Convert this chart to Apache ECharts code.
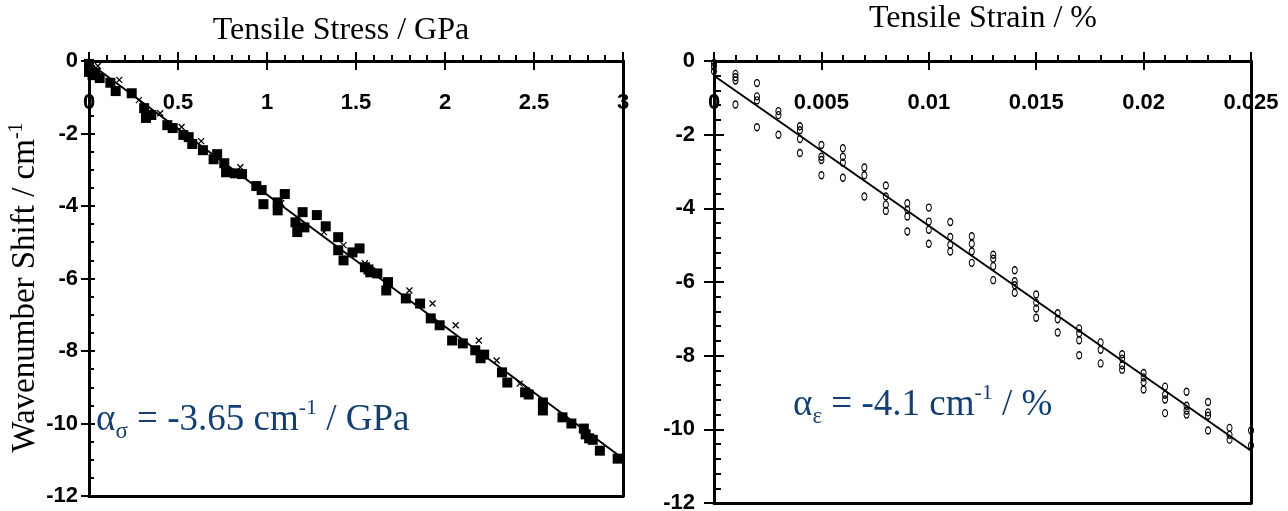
<!DOCTYPE html>
<html>
<head>
<meta charset="utf-8">
<title>Wavenumber shift vs tensile stress / strain</title>
<script src="https://cdn.jsdelivr.net/npm/echarts@6/dist/echarts.min.js"></script>
<style>
	html, body {
		margin: 0;
		padding: 0;
		background: #fff;
	}

	#myChart {
		width: 1288px;
		height: 511px;
	}
</style>
</head>
<body>
<div id="myChart"></div>
<script>
	// ---- left panel: shift vs tensile stress (GPa) ----
	var stressSqX = [0.0, 0.0, 0.006, 0.02, 0.035, 0.06, 0.12, 0.15, 0.24, 0.31, 0.32, 0.35, 0.44, 0.47, 0.53, 0.56, 0.58,
		0.64, 0.70, 0.72, 0.76, 0.77, 0.82, 0.86, 0.94, 0.97, 0.98, 1.06, 1.06, 1.10, 1.16, 1.17, 1.20, 1.21, 1.28,
		1.33, 1.40, 1.40, 1.43, 1.48, 1.52, 1.55, 1.57, 1.58, 1.62, 1.68, 1.67, 1.78, 1.86, 1.92, 1.97, 2.04, 2.10,
		2.17, 2.20, 2.22, 2.32, 2.35, 2.45, 2.47, 2.55, 2.55, 2.66, 2.71, 2.78, 2.79, 2.81, 2.83, 2.87, 2.97
	];
	var stressSqY = [-0.08, -0.3, -0.25, -0.39, -0.33, -0.47, -0.6, -0.83, -0.89, -1.3, -1.57, -1.49, -1.77, -1.85, -2.04,
		-2.1, -2.29, -2.46, -2.71, -2.57, -2.82, -3.07, -3.1, -3.12, -3.45, -3.56, -3.95, -3.9, -4.12, -3.67, -4.45,
		-4.72, -4.17, -4.59, -4.25, -4.56, -4.86, -5.22, -5.5, -5.28, -5.17, -5.69, -5.75, -5.83, -5.86, -6.1, -6.33,
		-6.55, -6.69, -7.1, -7.29, -7.71, -7.79, -7.98, -8.2, -8.1, -8.59, -8.87, -9.14, -9.2, -9.42, -9.64, -9.83,
		-10.0, -10.14, -10.3, -10.41, -10.45, -10.75, -10.97
	];
	var stressCrossX = [0.05, 0.17, 0.28, 0.40, 0.52, 0.63, 0.85, 1.08, 1.32, 1.43, 1.55, 1.80, 1.93, 2.06, 2.19, 2.29, 2.42];
	var stressCrossY = [-0.14, -0.52, -1.08, -1.44, -1.82, -2.21, -2.93, -3.92, -4.72, -5.08, -5.58, -6.33, -6.69, -7.29,
		-7.71, -8.26, -8.9
	];
	var stressFitX = [0, 2.99];
	var stressFitY = [-0.05, -10.93];

	// ---- right panel: shift vs tensile strain (%) ----
	var strainCols = [0, 0.001, 0.002, 0.003, 0.004, 0.005, 0.006, 0.007, 0.008, 0.009, 0.010, 0.011, 0.012,
		0.013, 0.014, 0.015, 0.016, 0.017, 0.018, 0.019, 0.020, 0.021, 0.022, 0.023, 0.024, 0.025
	];
	var strainShifts = [
		[-0.05, -0.15, -0.28],
		[-0.35, -0.44, -0.53, -1.18],
		[-0.6, -0.96, -1.07, -1.8],
		[-1.36, -1.47, -2.0],
		[-1.77, -1.88, -2.12, -2.5],
		[-2.28, -2.6, -2.69, -3.1],
		[-2.37, -2.6, -2.76, -3.17],
		[-2.89, -3.1, -3.68],
		[-3.38, -3.68, -3.9, -4.07],
		[-3.86, -4.04, -4.22, -4.63],
		[-3.98, -4.36, -4.58, -4.96],
		[-4.37, -4.78, -4.99, -5.17],
		[-4.76, -4.96, -5.17, -5.48],
		[-5.26, -5.37, -5.57, -5.95],
		[-5.68, -5.98, -6.09, -6.29],
		[-6.34, -6.56, -6.72, -6.97],
		[-6.85, -7.01, -7.37],
		[-7.26, -7.39, -7.58, -7.99],
		[-7.64, -7.84, -8.21],
		[-7.96, -8.08, -8.26, -8.38],
		[-8.47, -8.59, -8.72, -8.92],
		[-8.84, -9.06, -9.19, -9.56],
		[-8.98, -9.36, -9.49, -9.6],
		[-9.26, -9.54, -9.63, -10.03],
		[-9.96, -10.15, -10.28],
		[-10.03, -10.44]
	];
	var strainFitX = [0, 0.025];
	var strainFitY = [-0.4, -10.58];

	var shiftMin = -12;
	var shiftMax = 0;
	var shiftStep = 2;

	var serif = 'Liberation Serif, Times New Roman, serif';
	var sans = 'Liberation Sans, Arial, sans-serif';
	var blue = '#143f72';

	function pairs(xs, ys) {
		var out = [];
		for (var i = 0; i < xs.length; i++) {
			out.push([xs[i], ys[i]]);
		}
		return out;
	}

	var strainData = [];
	for (var c = 0; c < strainCols.length; c++) {
		for (var k = 0; k < strainShifts[c].length; k++) {
			strainData.push([strainCols[c], strainShifts[c][k]]);
		}
	}

	var tickLabel = {
		fontFamily: sans,
		fontWeight: 'bold',
		fontSize: 22,
		color: '#000'
	};
	var blackLine = {
		color: '#000',
		width: 2
	};

	// top axis carrying the labels, ticks pointing outward
	function xTop(grid, max, interval) {
		return {
			type: 'value',
			gridIndex: grid,
			position: 'top',
			min: 0,
			max: max,
			interval: interval,
			axisLine: {
				onZero: false,
				lineStyle: {
					color: '#000',
					width: 3
				}
			},
			axisTick: {
				inside: false,
				length: 9,
				lineStyle: blackLine
			},
			minorTick: {
				show: true,
				splitNumber: 5,
				length: 6,
				lineStyle: blackLine
			},
			axisLabel: Object.assign({
				inside: true,
				margin: 31
			}, tickLabel),
			splitLine: {
				show: false
			}
		};
	}
	// same scale, only the inner half of the major ticks
	function xTopInner(grid, max, interval) {
		return {
			type: 'value',
			gridIndex: grid,
			position: 'top',
			min: 0,
			max: max,
			interval: interval,
			axisLine: {
				show: false,
				onZero: false
			},
			axisTick: {
				inside: true,
				length: 9,
				lineStyle: blackLine
			},
			axisLabel: {
				show: false
			},
			splitLine: {
				show: false
			}
		};
	}
	// plain frame edge
	function frameAxis(grid, dim, pos, max) {
		return {
			type: 'value',
			gridIndex: grid,
			position: pos,
			min: dim === 'x' ? 0 : shiftMin,
			max: max,
			axisLine: {
				show: true,
				onZero: false,
				lineStyle: {
					color: '#000',
					width: 3
				}
			},
			axisTick: {
				show: false
			},
			axisLabel: {
				show: false
			},
			splitLine: {
				show: false
			}
		};
	}
	function yLeft(grid, margin, outLen) {
		return {
			type: 'value',
			gridIndex: grid,
			position: 'left',
			min: shiftMin,
			max: shiftMax,
			interval: shiftStep,
			axisLine: {
				onZero: false,
				lineStyle: {
					color: '#000',
					width: 3
				}
			},
			axisTick: {
				inside: false,
				length: outLen,
				lineStyle: blackLine
			},
			axisLabel: Object.assign({
				margin: margin
			}, tickLabel),
			splitLine: {
				show: false
			}
		};
	}
	function yLeftInner(grid, len, minorLen, minorSplit) {
		return {
			type: 'value',
			gridIndex: grid,
			position: 'left',
			min: shiftMin,
			max: shiftMax,
			interval: shiftStep,
			axisLine: {
				show: false,
				onZero: false
			},
			axisTick: {
				inside: true,
				length: len,
				lineStyle: blackLine
			},
			minorTick: {
				show: true,
				splitNumber: minorSplit,
				length: minorLen,
				lineStyle: blackLine
			},
			axisLabel: {
				show: false
			},
			splitLine: {
				show: false
			}
		};
	}

	var yMainLeft = yLeft(0, 11, 8);
	yMainLeft.name = '{t|Wavenumber Shift / cm}{s|-1}';
	yMainLeft.nameLocation = 'middle';
	yMainLeft.nameRotate = 90;
	yMainLeft.nameGap = 40;
	yMainLeft.nameTextStyle = {
		padding: [0, 18, 0, 0],
		rich: {
			t: {
				fontFamily: serif,
				fontSize: 33,
				color: '#000',
				lineHeight: 38
			},
			s: {
				fontFamily: serif,
				fontSize: 20,
				color: '#000',
				verticalAlign: 'top',
				lineHeight: 20
			}
		}
	};

	function annotation(x, y, sub, rest) {
		return {
			type: 'text',
			x: x,
			y: y,
			style: {
				text: '{a|α}{b|' + sub + '}{a| = ' + rest[0] + ' cm}{c|-1}{a| / ' + rest[1] + '}',
				textVerticalAlign: 'top',
				rich: {
					a: {
						fontFamily: serif,
						fontSize: 37,
						lineHeight: 46,
						fill: blue
					},
					b: {
						fontFamily: serif,
						fontSize: 23,
						lineHeight: 24,
						verticalAlign: 'bottom',
						fill: blue
					},
					c: {
						fontFamily: serif,
						fontSize: 22,
						lineHeight: 26,
						verticalAlign: 'top',
						fill: blue
					}
				}
			}
		};
	}

	var myChart = echarts.init(document.getElementById('myChart'));
	myChart.setOption({
		animation: false,
		backgroundColor: '#fff',
		grid: [{
				left: 89,
				top: 61,
				width: 534,
				height: 435,
				outerBoundsMode: 'none'
			},
			{
				left: 714,
				top: 61,
				width: 537,
				height: 442,
				outerBoundsMode: 'none'
			}
		],
		xAxis: [
			xTop(0, 3, 0.5),
			xTopInner(0, 3, 0.5),
			frameAxis(0, 'x', 'bottom', 3),
			xTop(1, 0.025, 0.005),
			xTopInner(1, 0.025, 0.005),
			frameAxis(1, 'x', 'bottom', 0.025)
		],
		yAxis: [
			yMainLeft,
			yLeftInner(0, 6, 5, 4),
			frameAxis(0, 'y', 'right', shiftMax),
			yLeft(1, 19, 10),
			yLeftInner(1, 10, 7, 5),
			frameAxis(1, 'y', 'right', shiftMax)
		],
		graphic: [{
				type: 'text',
				x: 341,
				y: 31,
				style: {
					text: 'Tensile Stress / GPa',
					fontFamily: serif,
					fontSize: 32,
					fill: '#000',
					textAlign: 'center',
					textVerticalAlign: 'middle'
				}
			},
			{
				type: 'text',
				x: 983,
				y: 19,
				style: {
					text: 'Tensile Strain / %',
					fontFamily: serif,
					fontSize: 32,
					fill: '#000',
					textAlign: 'center',
					textVerticalAlign: 'middle'
				}
			},
			annotation(96, 397, 'σ', ['-3.65', 'GPa']),
			annotation(793, 382, 'ε', ['-4.1', '%'])
		],
		series: [{
				name: 'fit stress',
				type: 'line',
				xAxisIndex: 0,
				yAxisIndex: 0,
				data: pairs(stressFitX, stressFitY),
				showSymbol: false,
				lineStyle: {
					color: '#000',
					width: 2
				},
				z: 1
			},
			{
				name: 'stress squares',
				type: 'scatter',
				xAxisIndex: 0,
				yAxisIndex: 0,
				symbol: 'rect',
				symbolSize: 10,
				itemStyle: {
					color: '#000',
					opacity: 1
				},
				data: pairs(stressSqX, stressSqY),
				z: 2
			},
			{
				name: 'stress crosses',
				type: 'scatter',
				xAxisIndex: 0,
				yAxisIndex: 0,
				symbol: 'path://M0,0L10,10M10,0L0,10',
				symbolSize: 6,
				itemStyle: {
					color: 'none',
					borderColor: '#000',
					borderWidth: 1.3,
					opacity: 1
				},
				data: pairs(stressCrossX, stressCrossY),
				z: 3
			},
			{
				name: 'fit strain',
				type: 'line',
				xAxisIndex: 3,
				yAxisIndex: 3,
				data: pairs(strainFitX, strainFitY),
				showSymbol: false,
				lineStyle: {
					color: '#000',
					width: 2
				},
				z: 1
			},
			{
				name: 'strain circles',
				type: 'scatter',
				xAxisIndex: 3,
				yAxisIndex: 3,
				symbol: 'circle',
				symbolSize: [5, 7],
				itemStyle: {
					color: 'rgba(255,255,255,0)',
					borderColor: '#000',
					borderWidth: 1.2,
					opacity: 1
				},
				data: strainData,
				z: 2
			}
		]
	});
</script>
</body>
</html>
